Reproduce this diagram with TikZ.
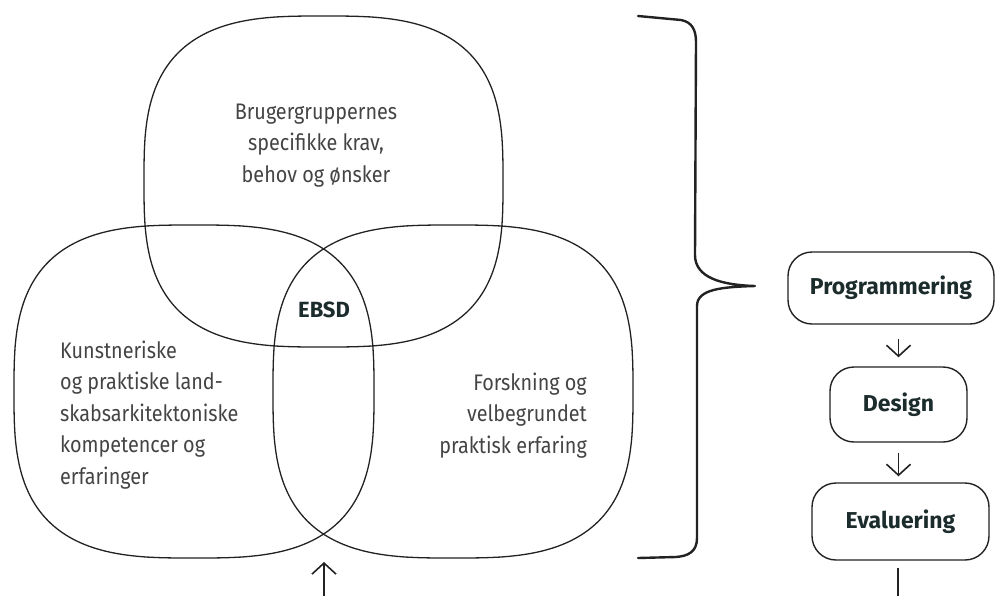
\documentclass[tikz,border=0pt]{standalone}
\usepackage{fontspec}
\setmainfont{Fira Sans}
\newfontfamily\bodyfont{Fira Sans}[FakeStretch=0.88]
\usetikzlibrary{arrows.meta}
\definecolor{ink}{HTML}{222222}
\definecolor{txt}{HTML}{444444}
\definecolor{lab}{HTML}{1C2B2B}
\begin{document}
\begin{tikzpicture}[x=1pt,y=-1pt,
  venn/.style={draw=ink, line width=1.3pt},
  body/.style={text=txt, font=\bodyfont\fontsize{22.5}{31.5}\selectfont, inner sep=0pt},
  stepbox/.style={draw=ink, line width=1.4pt, rounded corners=24pt, inner sep=0pt,
     text=lab, font=\fontsize{23}{26}\selectfont\bfseries},
  arr/.style={draw=ink, line width=1.6pt, -{Straight Barb[length=11pt,width=24pt,line width=1.6pt]}},
  brace/.style={draw=ink, line width=2.4pt, line join=round, line cap=round}]
\useasboundingbox (0,0) rectangle (996,595);

% Venn shapes (superellipses, exponent 3)
\draw[venn] plot[domain=0.5:360.5, samples=361] ({323.5+179.5*sign(cos(\x))*abs(cos(\x))^(2/3)}, {181.5+165.5*sign(sin(\x))*abs(sin(\x))^(2/3)}) -- cycle;
\draw[venn] plot[domain=0.5:360.5, samples=361] ({194+180*sign(cos(\x))*abs(cos(\x))^(2/3)}, {391.5+166.5*sign(sin(\x))*abs(sin(\x))^(2/3)}) -- cycle;
\draw[venn] plot[domain=0.5:360.5, samples=361] ({453+180*sign(cos(\x))*abs(cos(\x))^(2/3)}, {391.5+166.5*sign(sin(\x))*abs(sin(\x))^(2/3)}) -- cycle;

% texts (base anchor = baseline of last line)
\node[body, align=center, anchor=base] (top) at (316,182) {Brugergruppernes\\specifikke krav,\\behov og ønsker};
\node[body, align=left, anchor=base west] (left) at (60,484) {Kunstneriske\\og praktiske land-\\skabsarkitektoniske\\kompetencer og\\erfaringer};
\node[body, align=right, anchor=base east] (right) at (587,453) {Forskning og\\velbegrundet\\praktisk erfaring};
\node[text=lab, font=\fontsize{22}{24}\selectfont\bfseries, inner sep=0pt] (ebsd) at (324,310) {EBSD};

% bottom arrow into the Venn
\coordinate (bx) at (324,533);
\coordinate (src) at (324,600);
\draw[arr, shorten >=29pt] (src) -- (bx);

% brace
\draw[brace] (638,16) -- (681,20) .. controls (692,22) and (696,30) .. (696,42)
  -- (695,255) .. controls (695,278) and (722,285) .. (755,286)
  .. controls (722,287) and (697,289) .. (697,306)
  -- (697,538) .. controls (697,552) and (688,556) .. (676,557) -- (638,558);

% process boxes
\node[stepbox, minimum width=206pt, minimum height=72pt] (prog) at (891,288) {Programmering};
\node[stepbox, minimum width=137pt, minimum height=75pt] (design) at (898.5,404.5) {Design};
\node[stepbox, minimum width=177pt, minimum height=77pt] (eval) at (900.5,521.5) {Evaluering};
\coordinate (out) at (898,600);

\draw[arr, shorten <=14pt, shorten >=9pt] (design.north |- prog.south) -- (design.north);
\draw[arr, shorten <=10pt, shorten >=6pt] (design.south) -- (design.south |- eval.north);
\draw[draw=ink, line width=1.6pt, shorten <=7pt] (out |- eval.south) -- (out);
\end{tikzpicture}
\end{document}
